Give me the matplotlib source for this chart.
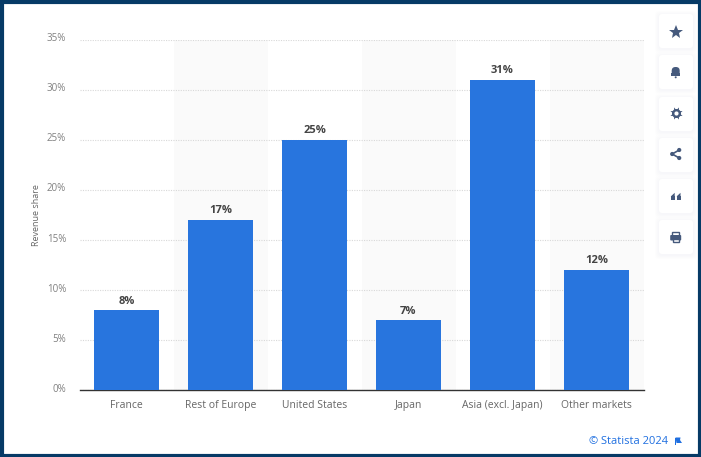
import matplotlib
matplotlib.use("Agg")
import matplotlib.pyplot as plt
from matplotlib.patches import FancyBboxPatch, Rectangle, Circle, Polygon
from matplotlib.transforms import ScaledTranslation

W, H = 701, 457

categories = ["France", "Rest of Europe", "United States", "Japan", "Asia (excl. Japan)", "Other markets"]
shares = [8, 17, 25, 7, 31, 12]
y_ticks = [0, 5, 10, 15, 20, 25, 30, 35]
y_label = "Revenue share"
credit = "© Statista 2024"

BLUE = "#2875de"
NAVY = "#063a66"
ICON = "#45597c"
GREY = "#666666"

plt.rcParams['font.family'] = ['Open Sans', 'DejaVu Sans']

fig = plt.figure(figsize=(W / 100, H / 100), dpi=100, facecolor="white")

# Plot area, placed in pixels
ax = fig.add_axes([79.5 / W, 1 - 390 / H, 564 / W, (390 - 39.5) / H])
ax.set_xlim(-0.5, 5.5)
ax.set_ylim(0, 35)

# alternating bands behind the bars
for i in range(1, 6, 2):
    ax.axvspan(i - 0.5, i + 0.5, color="#fafafa", lw=0, zorder=0)

ax.set_yticks(y_ticks)
ax.set_yticklabels([f"{t}%" for t in y_ticks], fontsize=7, color="#808080")
ax.set_xticks(range(len(categories)))
ax.set_xticklabels(categories, fontsize=7.5, color=GREY)
ax.tick_params(axis="both", length=0)
ax.tick_params(axis="y", pad=9.5)
ax.tick_params(axis="x", pad=7)
ax.grid(axis="y", color="#d8d8d8", lw=0.8, ls=(0, (1, 1.2)), zorder=1)
ax.set_axisbelow(True)
ax.set_ylabel(y_label, fontsize=6.5, color=GREY, labelpad=4.3)

# y labels sit a bit above their gridlines
lift = ScaledTranslation(0, 1.6 / 72, fig.dpi_scale_trans)
for lab in ax.get_yticklabels():
    lab.set_transform(lab.get_transform() + lift)

for s in ["top", "right", "left"]:
    ax.spines[s].set_visible(False)
ax.spines["bottom"].set_color("#333333")
ax.spines["bottom"].set_linewidth(1)

ax.bar(range(len(shares)), shares, width=0.686, color=BLUE, zorder=3)
for i, v in enumerate(shares):
    ax.annotate(f"{v}%", (i, v), xytext=(0, 2.4), textcoords="offset points",
                ha="center", va="bottom", fontsize=8, fontweight="bold", color="#444444")

# Overlay in pixel coords for frame, buttons and credit
ov = fig.add_axes([0, 0, 1, 1], facecolor="none")
ov.set_xlim(0, W)
ov.set_ylim(H, 0)
ov.axis("off")

ov.add_patch(Rectangle((1.5, 1.5), W - 3, H - 3, fill=False, ec=NAVY, lw=3))

button_tops = [14, 55, 97, 138, 179, 220]
for top in button_tops:
    # soft shadow, a few wider layers
    for grow in [4, 3, 2, 1]:
        ov.add_patch(FancyBboxPatch((659 - grow, top - grow + 1), 34 + 2 * grow, 34 + 2 * grow,
                                    boxstyle="round,pad=0,rounding_size=5",
                                    fc="#e6e9ef", ec="none", alpha=0.07))
    ov.add_patch(FancyBboxPatch((659, top), 34, 34, boxstyle="round,pad=0,rounding_size=3",
                                fc="white", ec="none"))

cx = 675.7
# star
ov.plot(cx, 31.7, marker="*", ms=10, color=ICON, mew=0)
# bell
ov.add_patch(FancyBboxPatch((cx - 4, 67), 8, 9, boxstyle="round,pad=0,rounding_size=3.8", fc=ICON, ec="none"))
ov.add_patch(Rectangle((cx - 4.6, 72.5), 9.2, 3, fc=ICON, ec="none"))
ov.add_patch(Circle((cx, 77.3), 1, fc=ICON, ec="none"))
# gear
ov.plot(cx, 113.3, marker=(8, 1, 22.5), ms=9.5, color=ICON, mew=0)
ov.plot(cx, 113.3, marker="o", ms=6.5, color=ICON, mew=0)
ov.plot(cx, 113.3, marker="o", ms=3, color="white", mew=0)
# share
ov.plot([cx + 3.5, cx - 3.5, cx + 3.5], [150, 154, 158], color=ICON, lw=1.2)
for px, py in [(cx + 3.5, 150), (cx - 3.5, 154), (cx + 3.5, 158)]:
    ov.add_patch(Circle((px, py), 2.1, fc=ICON, ec="none"))
# quote marks
for dx in [-5, 0.8]:
    ov.add_patch(Rectangle((cx + dx, 196), 4.2, 4, fc=ICON, ec="none"))
    ov.add_patch(Polygon([(cx + dx, 196.5), (cx + dx + 4, 192.8), (cx + dx + 4, 196)], fc=ICON, ec="none"))
# printer
ov.add_patch(Rectangle((cx - 3.6, 232.3), 7.2, 3.2, fc="white", ec=ICON, lw=1))
ov.add_patch(FancyBboxPatch((cx - 5.5, 235), 11, 5.5, boxstyle="round,pad=0,rounding_size=1", fc=ICON, ec="none"))
ov.add_patch(Rectangle((cx - 3, 238.7), 6, 3.6, fc="white", ec=ICON, lw=1))

# credit and little flag
ov.text(668, 441, credit, ha="right", va="center", fontsize=8, color="#1f6fe0")
ov.add_patch(Polygon([(675.5, 437.5), (680.5, 437.5), (680, 440), (682, 443), (676.5, 443)], fc="#1f6fe0", ec="none"))
ov.add_patch(Rectangle((675.2, 437.5), 1.2, 7, fc="#1f6fe0", ec="none"))

fig.savefig("out.png", dpi=100, facecolor="white")
